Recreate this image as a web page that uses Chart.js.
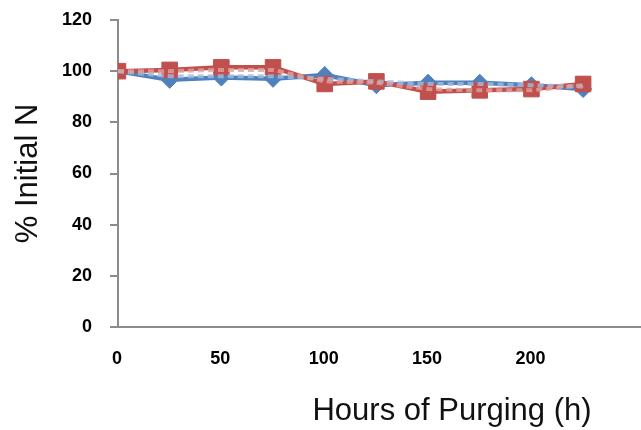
<!DOCTYPE html>
<html>
<head>
<meta charset="utf-8">
<script src="https://cdn.jsdelivr.net/npm/chart.js@4"></script>
<style>
  html, body { margin: 0; padding: 0; background: #fff; overflow: hidden; width: 641px; height: 430px; }
  #wrap { width: 641px; height: 430px; }
  #chart { display: block; }
</style>
</head>
<body>
<div id="wrap"><canvas id="chart" width="641" height="430"></canvas></div>
<script>
// purge time (h) and nitrogen remaining as % of initial
const hours = [0, 25, 50, 75, 100, 125, 150, 175, 200, 225];
const seriesA = [100, 96.6, 97.5, 97, 98.5, 94.5, 95.5, 95.5, 94.5, 93];
const seriesA2 = [100, 98, 98, 98, 97, 96, 95, 95, 94.5, 94];
const seriesB = [100, 100.5, 101.5, 101.5, 95, 96, 92, 92.5, 93, 95];
const seriesB2 = [100, 100, 100.5, 100.5, 96, 95.5, 93, 92.5, 92.5, 94.5];
const xTicks = [0, 50, 100, 150, 200];
const yTicks = [0, 20, 40, 60, 80, 100, 120];
const xTitle = "Hours of Purging (h)";
const yTitle = "% Initial N";

const BLUE = "#4f81bd";
const RED = "#c0504d";
const FONT = "'Liberation Sans', Arial, sans-serif";

function pts(vals) {
  return hours.map((h, i) => ({ x: h, y: vals[i] }));
}

// x title sits right of centre, so draw it by hand
const xTitlePlugin = {
  id: "xTitle",
  afterDraw(chart) {
    const ctx = chart.ctx;
    ctx.save();
    ctx.font = "31px " + FONT;
    ctx.fillStyle = "#111";
    ctx.textAlign = "center";
    ctx.textBaseline = "middle";
    ctx.fillText(xTitle, 452, 411);
    ctx.restore();
  },
};

const ctx = document.getElementById("chart").getContext("2d");
new Chart(ctx, {
  type: "line",
  data: {
    datasets: [
      {
        data: pts(seriesB2),
        borderColor: "rgba(226, 160, 158, 0.8)",
        borderWidth: 4,
        borderDash: [6, 4],
        pointRadius: 0,
        order: 0,
      },
      {
        data: pts(seriesA2),
        borderColor: "rgba(160, 188, 224, 0.8)",
        borderWidth: 4,
        borderDash: [6, 4],
        pointRadius: 0,
        order: 1,
      },
      {
        data: pts(seriesB),
        borderColor: RED,
        backgroundColor: RED,
        borderWidth: 4.5,
        pointStyle: "rect",
        pointRadius: 11,
        pointBorderWidth: 1,
        order: 2,
      },
      {
        data: pts(seriesA),
        borderColor: BLUE,
        backgroundColor: BLUE,
        borderWidth: 4.5,
        pointStyle: "rectRot",
        pointRadius: 8.5,
        pointBorderWidth: 1,
        order: 3,
      },
    ],
  },
  options: {
    responsive: false,
    animation: false,
    layout: { autoPadding: false, padding: { top: 20, right: 0, left: 0, bottom: 0 } },
    plugins: {
      legend: { display: false },
      tooltip: { enabled: false },
    },
    elements: { line: { tension: 0 } },
    scales: {
      x: {
        type: "linear",
        min: 0,
        max: 253,
        afterBuildTicks(scale) {
          scale.ticks = xTicks.map((v) => ({ value: v }));
        },
        afterFit(scale) {
          scale.height = 103;
          scale.paddingLeft = 0;
          scale.paddingRight = 0;
        },
        grid: { display: false, drawTicks: false },
        border: { display: true, color: "#8c8c8c", width: 2 },
        ticks: {
          padding: 21,
          labelOffset: -1,
          color: "#000",
          font: { family: FONT, size: 18, weight: "bold" },
        },
      },
      y: {
        min: 0,
        max: 120,
        afterBuildTicks(scale) {
          scale.ticks = yTicks.map((v) => ({ value: v }));
        },
        afterFit(scale) {
          scale.width = 118;
          scale.paddingTop = 0;
          scale.paddingBottom = 0;
        },
        grid: {
          drawOnChartArea: false,
          drawTicks: true,
          tickLength: 8,
          color: "#8c8c8c",
          lineWidth: 2,
        },
        border: { display: true, color: "#8c8c8c", width: 2 },
        ticks: {
          padding: 18,
          color: "#000",
          font: { family: FONT, size: 18, weight: "bold" },
        },
        title: {
          display: true,
          text: yTitle,
          color: "#111",
          padding: { top: 10, bottom: 0 },
          font: { family: FONT, size: 31, lineHeight: 1.2 },
        },
      },
    },
  },
  plugins: [xTitlePlugin],
});
</script>
</body>
</html>
